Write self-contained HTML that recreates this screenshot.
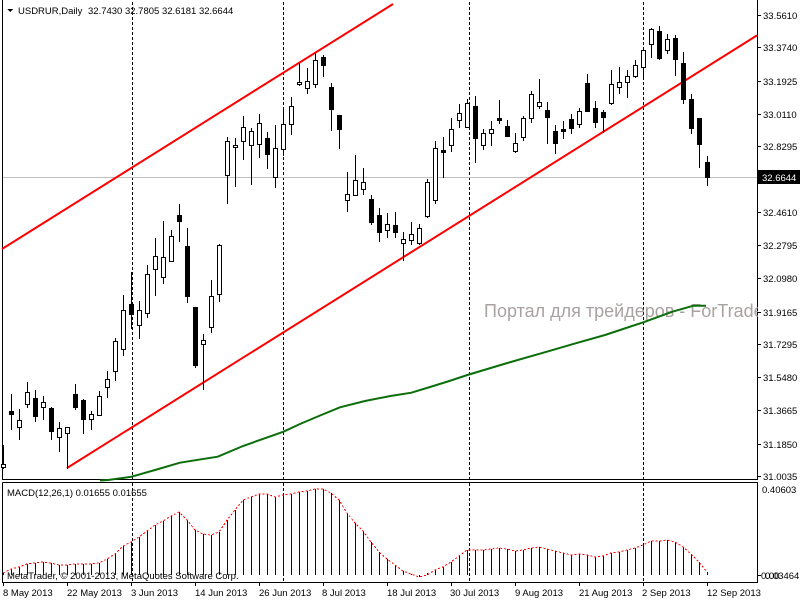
<!DOCTYPE html>
<html><head><meta charset="utf-8"><style>
html,body{margin:0;padding:0;background:#fff;}
svg{display:block;}
text{font-family:"Liberation Sans",Arial,sans-serif;font-size:9.5px;fill:#000;}
.w{fill:#fff;stroke:#000;stroke-width:1;}
.b{fill:#000;stroke:#000;stroke-width:1;}
</style></head><body>
<svg width="800" height="600" viewBox="0 0 800 600" xmlns="http://www.w3.org/2000/svg" shape-rendering="crispEdges">
<rect x="0" y="0" width="800" height="600" fill="#fff"/>
<!-- frames -->
<path d="M2.5 0V479.5H757.5V0M2.5 482.5V582.5H757.5V482.5H2.5" fill="none" stroke="#000" stroke-width="1"/>
<!-- separators -->
<path d="M132.5 2V479M283.5 2V479M469.5 2V479M643.5 2V479M132.5 483V582M283.5 483V582M469.5 483V582M643.5 483V582" stroke="#000" stroke-width="1" stroke-dasharray="3,2"/>
<!-- current price line -->
<path d="M3 177.5H757" stroke="#c0c0c0" stroke-width="1"/>
<!-- watermark -->
<text x="484" y="317" style="font-size:18px;fill:#aaa2a2">Портал для трейдеров - ForTrader.ru</text>
<rect x="758" y="0" width="42" height="600" fill="#fff"/>
<!-- MA green -->
<polyline shape-rendering="auto" fill="none" stroke="#0a6e0a" stroke-width="2" points="100,480.5 108,480 131.6,476.7 155,470 180,462.7 201,459.3 217.8,456.7 243,446 283.5,431.7 300,424 318.9,416 340,407.3 365,401 390.4,396 411.4,392.7 430,387 449.3,381 467.4,375 504,364 550.3,350.7 575.6,343.3 605,335 643.3,322.3 672.4,311.7 693.4,305.7 706,305.7"/>
<!-- trend lines -->
<path shape-rendering="auto" d="M2 249L393 4M67 468L757 35.4" stroke="#ff0000" stroke-width="2" fill="none"/>
<!-- wicks -->
<path stroke="#000" stroke-width="1" fill="none" d="M3.5 445V469M11.5 394V430M19.5 409V440M27.5 382V408M35.5 390V422M43.5 396V420M51.5 407V440M59.5 422V452M67.5 427V469M75.5 384V410M83.5 399V434M91.5 411V430M99.5 391V416M107.5 371V398M115.5 338V381M123.5 295V356M131.5 272V329M139.5 301V339M147.5 265V318M155.5 238V296M163.5 221V284M171.5 230V262M179.5 204V242M187.5 228V303M195.5 307V368M203.5 334V390M211.5 280V333M219.5 244V302M227.5 137V204M235.5 138V187M243.5 116V160M251.5 128V185M259.5 114V158M267.5 132V169M275.5 125V188M283.5 110V156M291.5 97V135M299.5 63V86M307.5 68V94M315.5 53V88M323.5 55V77M331.5 83V131M339.5 115V149M347.5 172V212M355.5 155V196M363.5 168V195M371.5 195V225M379.5 208V242M387.5 213V238M395.5 212V238M403.5 232V261M411.5 222V245M419.5 224V245M427.5 179V218M435.5 141V204M443.5 137V178M451.5 118V152M459.5 104V128M467.5 99V128M475.5 96V163M483.5 129V150M491.5 121V146M499.5 100V124M507.5 120V137M515.5 133V153M523.5 116V141M531.5 91V123M539.5 79V109M547.5 102V144M555.5 125V154M563.5 121V139M571.5 114V134M579.5 108V128M587.5 74V112M595.5 101V128M603.5 110V133M611.5 70V105M619.5 67V94M627.5 70V98M635.5 60V78M643.5 49V78M651.5 28V58M659.5 26V60M667.5 34V54M675.5 35V76M683.5 52V104M691.5 94V134M699.5 118V168M707.5 156V186"/>
<!-- bodies -->
<rect class="w" x="1.5" y="464.5" width="4" height="3"/>
<rect class="b" x="9.5" y="411.5" width="4" height="3"/>
<rect class="w" x="17.5" y="420.5" width="4" height="7"/>
<rect class="w" x="25.5" y="392.5" width="4" height="12"/>
<rect class="b" x="33.5" y="398.5" width="4" height="18"/>
<rect class="w" x="41.5" y="402.5" width="4" height="5"/>
<rect class="b" x="49.5" y="408.5" width="4" height="23"/>
<rect class="w" x="57.5" y="428.5" width="4" height="9"/>
<rect class="w" x="65.5" y="427.5" width="4" height="6"/>
<rect class="b" x="73.5" y="394.5" width="4" height="13"/>
<rect class="b" x="81.5" y="400.5" width="4" height="19"/>
<rect class="w" x="89.5" y="414.5" width="4" height="5"/>
<rect class="w" x="97.5" y="396.5" width="4" height="19"/>
<rect class="w" x="105.5" y="379.5" width="4" height="8"/>
<rect class="w" x="113.5" y="341.5" width="4" height="30"/>
<rect class="w" x="121.5" y="310.5" width="4" height="39"/>
<rect class="b" x="129.5" y="304.5" width="4" height="10"/>
<rect class="w" x="137.5" y="310.5" width="4" height="15"/>
<rect class="w" x="145.5" y="274.5" width="4" height="39"/>
<rect class="w" x="153.5" y="256.5" width="4" height="13"/>
<rect class="w" x="161.5" y="257.5" width="4" height="20"/>
<rect class="w" x="169.5" y="236.5" width="4" height="25"/>
<rect class="b" x="177.5" y="215.5" width="4" height="6"/>
<rect class="b" x="185.5" y="246.5" width="4" height="50"/>
<rect class="b" x="193.5" y="307.5" width="4" height="58"/>
<rect class="w" x="201.5" y="340.5" width="4" height="4"/>
<rect class="w" x="209.5" y="296.5" width="4" height="31"/>
<rect class="w" x="217.5" y="245.5" width="4" height="49"/>
<rect class="w" x="225.5" y="141.5" width="4" height="34"/>
<rect class="w" x="233.5" y="145.5" width="4" height="2"/>
<rect class="w" x="241.5" y="127.5" width="4" height="14"/>
<rect class="w" x="249.5" y="131.5" width="4" height="14"/>
<rect class="w" x="257.5" y="123.5" width="4" height="21"/>
<rect class="b" x="265.5" y="138.5" width="4" height="16"/>
<rect class="w" x="273.5" y="148.5" width="4" height="29"/>
<rect class="w" x="281.5" y="124.5" width="4" height="25"/>
<rect class="w" x="289.5" y="106.5" width="4" height="18"/>
<rect class="w" x="297.5" y="82.5" width="4" height="2"/>
<rect class="w" x="305.5" y="81.5" width="4" height="7"/>
<rect class="w" x="313.5" y="60.5" width="4" height="24"/>
<rect class="b" x="321.5" y="57.5" width="4" height="8"/>
<rect class="b" x="329.5" y="87.5" width="4" height="22"/>
<rect class="b" x="337.5" y="115.5" width="4" height="14"/>
<rect class="w" x="345.5" y="194.5" width="4" height="6"/>
<rect class="w" x="353.5" y="180.5" width="4" height="15"/>
<rect class="w" x="361.5" y="182.5" width="4" height="7"/>
<rect class="b" x="369.5" y="199.5" width="4" height="23"/>
<rect class="b" x="377.5" y="215.5" width="4" height="17"/>
<rect class="w" x="385.5" y="224.5" width="4" height="6"/>
<rect class="b" x="393.5" y="225.5" width="4" height="7"/>
<rect class="w" x="401.5" y="239.5" width="4" height="4"/>
<rect class="w" x="409.5" y="234.5" width="4" height="6"/>
<rect class="w" x="417.5" y="228.5" width="4" height="15"/>
<rect class="w" x="425.5" y="182.5" width="4" height="34"/>
<rect class="w" x="433.5" y="148.5" width="4" height="52"/>
<rect class="b" x="441.5" y="150.5" width="4" height="2"/>
<rect class="w" x="449.5" y="129.5" width="4" height="16"/>
<rect class="w" x="457.5" y="113.5" width="4" height="7"/>
<rect class="w" x="465.5" y="103.5" width="4" height="24"/>
<rect class="b" x="473.5" y="106.5" width="4" height="32"/>
<rect class="w" x="481.5" y="133.5" width="4" height="12"/>
<rect class="w" x="489.5" y="129.5" width="4" height="4"/>
<rect class="b" x="497.5" y="118.5" width="4" height="2"/>
<rect class="b" x="505.5" y="126.5" width="4" height="10"/>
<rect class="w" x="513.5" y="143.5" width="4" height="8"/>
<rect class="w" x="521.5" y="118.5" width="4" height="19"/>
<rect class="w" x="529.5" y="94.5" width="4" height="24"/>
<rect class="w" x="537.5" y="102.5" width="4" height="4"/>
<rect class="b" x="545.5" y="110.5" width="4" height="7"/>
<rect class="b" x="553.5" y="131.5" width="4" height="12"/>
<rect class="b" x="561.5" y="129.5" width="4" height="2"/>
<rect class="b" x="569.5" y="119.5" width="4" height="9"/>
<rect class="w" x="577.5" y="111.5" width="4" height="13"/>
<rect class="b" x="585.5" y="83.5" width="4" height="28"/>
<rect class="b" x="593.5" y="108.5" width="4" height="14"/>
<rect class="b" x="601.5" y="112.5" width="4" height="5"/>
<rect class="w" x="609.5" y="84.5" width="4" height="19"/>
<rect class="w" x="617.5" y="82.5" width="4" height="5"/>
<rect class="w" x="625.5" y="76.5" width="4" height="6"/>
<rect class="w" x="633.5" y="65.5" width="4" height="11"/>
<rect class="w" x="641.5" y="50.5" width="4" height="17"/>
<rect class="w" x="649.5" y="29.5" width="4" height="15"/>
<rect class="b" x="657.5" y="31.5" width="4" height="27"/>
<rect class="w" x="665.5" y="39.5" width="4" height="11"/>
<rect class="b" x="673.5" y="38.5" width="4" height="21"/>
<rect class="b" x="681.5" y="63.5" width="4" height="36"/>
<rect class="b" x="689.5" y="99.5" width="4" height="29"/>
<rect class="b" x="697.5" y="118.5" width="4" height="26"/>
<rect class="b" x="705.5" y="162.5" width="4" height="15"/>
<!-- MACD histogram -->
<path stroke="#000080" stroke-width="1" fill="none" d="M3.5 575V573M11.5 575V569M19.5 575V567M27.5 575V564M35.5 575V563M43.5 575V562M51.5 575V563M59.5 575V565M67.5 575V565M75.5 575V564M83.5 575V564M91.5 575V564M99.5 575V563M107.5 575V559M115.5 575V554M123.5 575V546M131.5 575V542M139.5 575V537M147.5 575V531M155.5 575V525M163.5 575V521M171.5 575V516M179.5 575V512M187.5 575V520M195.5 575V530M203.5 575V534M211.5 575V535M219.5 575V532M227.5 575V520M235.5 575V510M243.5 575V500M251.5 575V497M259.5 575V494M267.5 575V494M275.5 575V497M283.5 575V495M291.5 575V494M299.5 575V492M307.5 575V491M315.5 575V489M323.5 575V489M331.5 575V493M339.5 575V500M347.5 575V513M355.5 575V523M363.5 575V531M371.5 575V542M379.5 575V552M387.5 575V559M395.5 575V565M403.5 575V571M411.5 575V574M419.5 575V577M427.5 575V573M435.5 575V570M443.5 575V567M451.5 575V562M459.5 575V556M467.5 575V550M475.5 575V550M483.5 575V550M491.5 575V549M499.5 575V548M507.5 575V549M515.5 575V551M523.5 575V550M531.5 575V548M539.5 575V547M547.5 575V549M555.5 575V551M563.5 575V553M571.5 575V555M579.5 575V554M587.5 575V555M595.5 575V557M603.5 575V556M611.5 575V553M619.5 575V552M627.5 575V550M635.5 575V548M643.5 575V545M651.5 575V541M659.5 575V541M667.5 575V540M675.5 575V542M683.5 575V547M691.5 575V554M699.5 575V562M707.5 575V572"/>
<polyline fill="none" stroke="#ff0000" stroke-width="1" stroke-dasharray="2,2" points="3,573 11,569 19,567 27,564 35,563 43,562 51,563 59,565 67,565 75,564 83,564 91,564 99,563 107,559 115,554 123,546 131,542 139,537 147,531 155,525 163,521 171,516 179,512 187,520 195,530 203,534 211,535 219,532 227,520 235,510 243,500 251,497 259,494 267,494 275,497 283,495 291,494 299,492 307,491 315,489 323,489 331,493 339,500 347,513 355,523 363,531 371,542 379,552 387,559 395,565 403,571 411,574 419,577 427,575 435,570 443,567 451,562 459,556 467,550 475,550 483,550 491,549 499,548 507,549 515,551 523,550 531,548 539,547 547,549 555,551 563,553 571,555 579,554 587,555 595,557 603,556 611,553 619,552 627,550 635,548 643,545 651,541 659,541 667,540 675,542 683,547 691,554 699,562 707,572"/>
<!-- header -->
<polygon points="7,9 13,9 10,12" fill="#000"/>
<text x="18" y="14">USDRUR,Daily</text>
<text x="88" y="14">32.7430 32.7805 32.6181 32.6644</text>
<text x="7" y="496">MACD(12,26,1) 0.01655 0.01655</text>
<text x="7" y="579">MetaTrader, © 2001-2013, MetaQuotes Software Corp.</text>
<!-- right axis -->
<path stroke="#000" stroke-width="1" d="M757 15.5H761M757 47.5H761M757 81.5H761M757 114.5H761M757 146.5H761M757 179.5H761M757 212.5H761M757 245.5H761M757 278.5H761M757 312.5H761M757 344.5H761M757 377.5H761M757 410.5H761M757 444.5H761M757 476.5H761M757 575.5H761"/>
<text x="763" y="19">33.5610</text>
<text x="763" y="51">33.3740</text>
<text x="763" y="85">33.1925</text>
<text x="763" y="118">33.0110</text>
<text x="763" y="150">32.8295</text>
<text x="763" y="183">32.6480</text>
<text x="763" y="216">32.4610</text>
<text x="763" y="249">32.2795</text>
<text x="763" y="282">32.0980</text>
<text x="763" y="316">31.9165</text>
<text x="763" y="348">31.7295</text>
<text x="763" y="381">31.5480</text>
<text x="763" y="414">31.3665</text>
<text x="763" y="448">31.1850</text>
<text x="763" y="480">31.0035</text>
<rect x="758" y="170" width="42" height="14" fill="#000"/>
<text x="762" y="181" style="fill:#fff">32.6644</text>
<text x="762" y="493">0.40603</text>
<text x="765" y="579">0.03464</text>
<text x="761" y="579">0.00</text>
<!-- date axis -->
<path stroke="#000" stroke-width="1" d="M3.5 582V586M67.5 582V586M131.5 582V586M195.5 582V586M259.5 582V586M323.5 582V586M387.5 582V586M451.5 582V586M515.5 582V586M579.5 582V586M643.5 582V586M707.5 582V586"/>
<text x="3" y="596">8 May 2013</text>
<text x="67" y="596">22 May 2013</text>
<text x="131" y="596">3 Jun 2013</text>
<text x="195" y="596">14 Jun 2013</text>
<text x="259" y="596">26 Jun 2013</text>
<text x="322" y="596">8 Jul 2013</text>
<text x="387" y="596">18 Jul 2013</text>
<text x="450" y="596">30 Jul 2013</text>
<text x="515" y="596">9 Aug 2013</text>
<text x="579" y="596">21 Aug 2013</text>
<text x="642" y="596">2 Sep 2013</text>
<text x="707" y="596">12 Sep 2013</text>
</svg>
</body></html>
